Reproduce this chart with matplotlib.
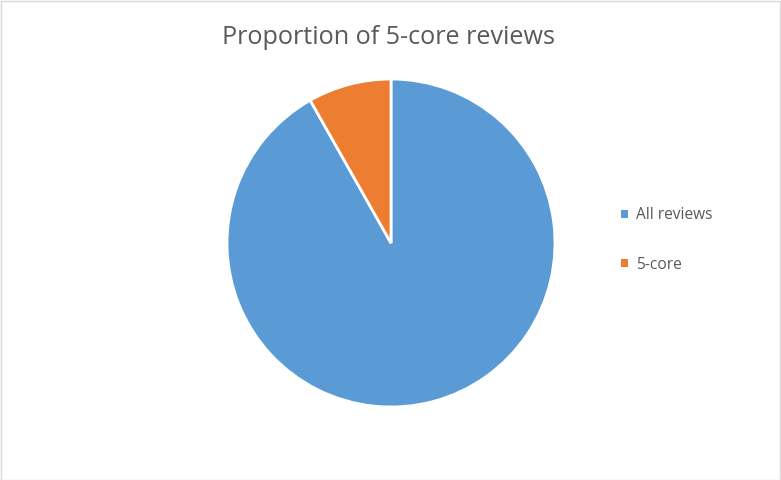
import matplotlib
matplotlib.use("Agg")
import matplotlib.pyplot as plt
from matplotlib.patches import Rectangle

labels = ["All reviews", "5-core"]
values = [91.8, 8.2]
colors = ["#5B9BD5", "#ED7D31"]
title = "Proportion of 5-core reviews"

W, H = 781, 480
fig = plt.figure(figsize=(W / 100, H / 100), dpi=100)
fig.patch.set_facecolor("white")

# chart border
fig.add_artist(Rectangle((0.5 / W, 0.5 / H), 1 - 1.5 / W, 1 - 1.5 / H,
                         transform=fig.transFigure, fill=False,
                         edgecolor="#D9D9D9", linewidth=1))

cx, cy, r = 391, 243, 164
ax = fig.add_axes([(cx - r) / W, (H - cy - r) / H, 2 * r / W, 2 * r / H])
wedges, _ = ax.pie(values, colors=colors, startangle=90, counterclock=False,
                   radius=1, wedgeprops=dict(edgecolor="white", linewidth=2))
ax.set_xlim(-1.0, 1.0)
ax.set_ylim(-1.0, 1.0)
ax.set_aspect("equal")
ax.axis("off")

fig.text(389 / W, 1 - 38 / H, title, ha="center", va="center",
         fontsize=18.1, color="#595959", family="Open Sans", fontweight="normal")

leg = fig.legend(wedges, labels, loc="center left",
                 bbox_to_anchor=(607 / W, 1 - 240 / H), frameon=False,
                 handlelength=0.45, handleheight=0.45, handletextpad=0.5,
                 labelspacing=2.15, prop=dict(family="Open Sans", size=11.2))
for t in leg.get_texts():
    t.set_color("#595959")
for h in leg.legend_handles:
    h.set_edgecolor("none")

fig.savefig("out.png", dpi=100, facecolor="white")
